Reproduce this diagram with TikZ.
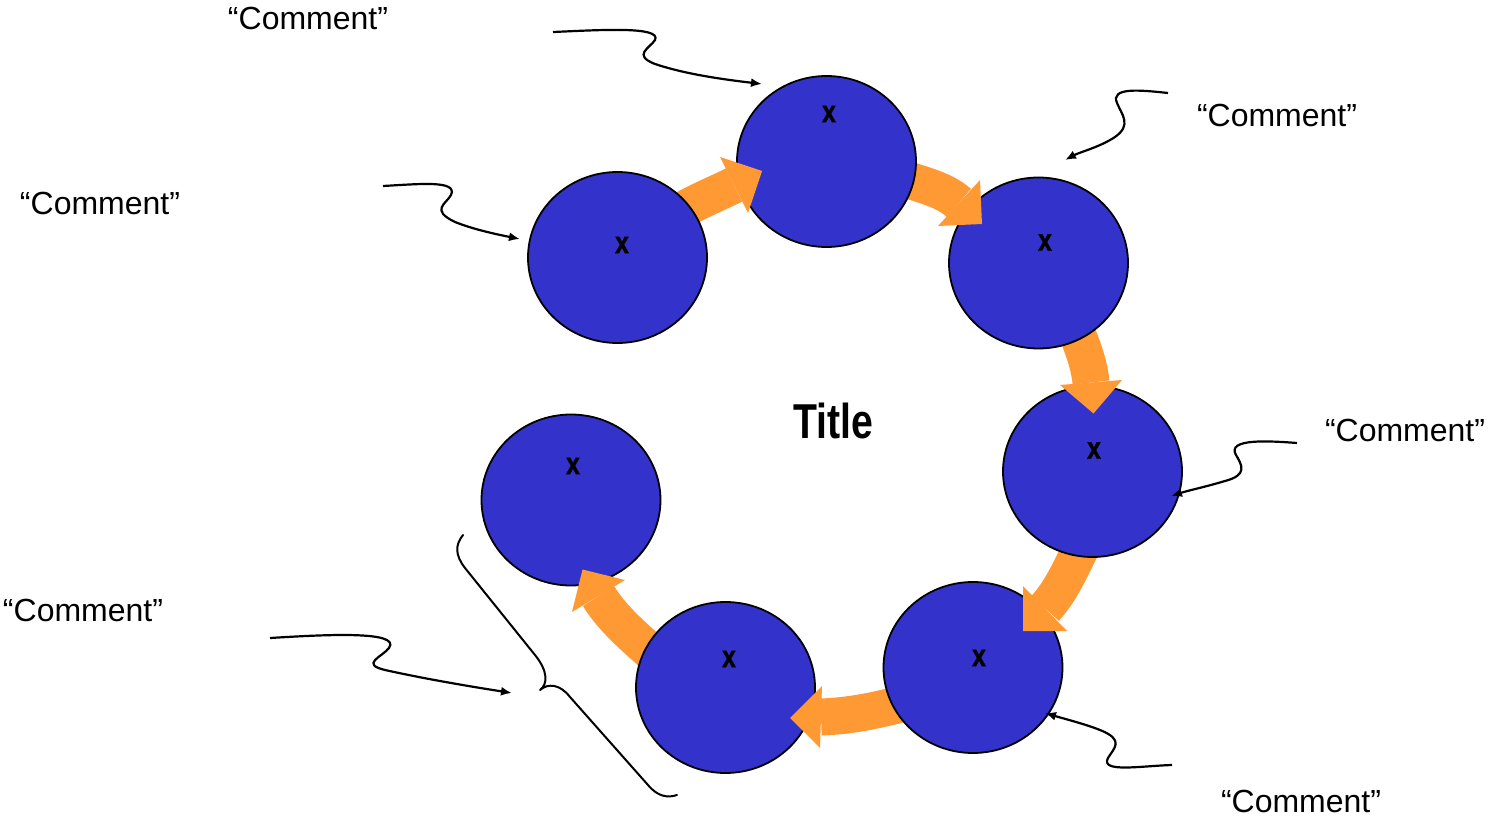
\documentclass[tikz,border=0pt]{standalone}
\usepackage{fontspec}
\setmainfont{Liberation Sans}
\newfontfamily\narrowf[FakeStretch=0.8]{Liberation Sans}
\newfontfamily\heavyf[FakeStretch=0.8,FakeBold=1.2]{Liberation Sans Bold}
\usetikzlibrary{arrows.meta,shapes.geometric}
\definecolor{ballblue}{RGB}{51,51,204}
\definecolor{flow}{RGB}{255,153,51}
\begin{document}
\begin{tikzpicture}[x=1pt,y=-1pt,
 ball/.style={ellipse,draw=black,line width=1.8pt,fill=ballblue,minimum width=179pt,minimum height=171pt,inner sep=0pt},
 xlab/.style={inner sep=0pt,font=\heavyf\fontsize{31}{36}\selectfont},
 comment/.style={inner sep=0pt,font=\fontsize{32}{38}\selectfont},
 titlelab/.style={inner sep=0pt,font=\narrowf\bfseries\fontsize{49}{58}\selectfont},
 shaft/.style={draw=flow,line width=37pt},
 head/.style={fill=flow},
 pointer/.style={draw=black,line width=2.2pt,-{Latex[length=11pt,width=9pt]}},
 bracel/.style={draw=black,line width=2pt,line cap=round,line join=round},
 ]
\useasboundingbox (0,0) rectangle (1492,821);

% ring of balls with flow arrows (drawn back to front)
\node[ball] (c7) at (571,500) {};
\draw[shaft] (665,665) .. controls (642,643) and (615,623) .. (598.5,596);
\fill[head] (572,612) -- (582.5,569.5) -- (625,580) -- cycle;
\node[ball] (c6) at (725.5,687.5) {};
\draw[shaft] (915,700) .. controls (884,709) and (853,716) .. (821,717);
\fill[head] (822,686) -- (790,718) -- (820,748) -- cycle;
\node[ball] (c5) at (973,667.5) {};
\draw[shaft] (1085,540) .. controls (1073,563) and (1063,589) .. (1045,608.5);
\fill[head] (1023,586) -- (1023,631) -- (1067,631) -- cycle;
\node[ball] (c4) at (1092.5,471.5) {};
\draw[shaft] (1072,320) .. controls (1080,341) and (1089,361) .. (1091,382.5);
\fill[head] (1060,385) -- (1093.5,413.5) -- (1122,380) -- cycle;
\node[ball] (c3) at (1038.5,263) {};
\draw[shaft] (895,175) .. controls (916,184) and (942,187.5) .. (959,203);
\fill[head] (980,180) -- (982,224) -- (938,226) -- cycle;
\node[ball] (c2) at (826.5,161.5) {};
\draw[shaft] (675,215) .. controls (693,203) and (714,195) .. (734,185);
\fill[head] (720,157) -- (762,171) -- (748,213) -- cycle;
\node[ball] (c1) at (617.5,257.5) {};

% x labels
\node[xlab] (x1) at (622,245) {x};
\node[xlab] (x2) at (829,114) {x};
\node[xlab] (x3) at (1045,242.5) {x};
\node[xlab] (x4) at (1094,450.5) {x};
\node[xlab] (x5) at (979,658) {x};
\node[xlab] (x6) at (729,659) {x};
\node[xlab] (x7) at (573,466) {x};

% title
\node[titlelab] (title) at (833,420.5) {Title};

% comments
\node[comment] (k1) at (308,18) {“Comment”};
\node[comment] (k2) at (100,203) {“Comment”};
\node[comment] (k3) at (1277,115) {“Comment”};
\node[comment] (k4) at (1405,430) {“Comment”};
\node[comment] (k5) at (83,610) {“Comment”};
\node[comment] (k6) at (1301,801) {“Comment”};

% pointer endpoints
\coordinate (p1s) at (553,32);   \coordinate (p1e) at (762,84);
\coordinate (p2s) at (383,186);  \coordinate (p2e) at (520,239);
\coordinate (p3s) at (1168,93);  \coordinate (p3e) at (1065,160);
\coordinate (p4s) at (1297,443); \coordinate (p4e) at (1171,496);
\coordinate (p5s) at (1172,765); \coordinate (p5e) at (1045,713);
\coordinate (p6s) at (270,638);  \coordinate (p6e) at (512,693);

\draw[pointer] (p1s) .. controls (600,30) and (662,26) .. (655,40)
  .. controls (650,48) and (632,55) .. (655,64)
  .. controls (685,74) and (720,79) .. (p1e);
\draw[pointer] (p2s) .. controls (420,184) and (458,180) .. (451,195)
  .. controls (446,204) and (430,210) .. (455,222)
  .. controls (475,230) and (500,235) .. (p2e);
\draw[pointer] (p3s) .. controls (1140,90) and (1110,87) .. (1117,103)
  .. controls (1122,115) and (1132,125) .. (1115,137)
  .. controls (1100,147) and (1080,152) .. (p3e);
\draw[pointer] (p4s) .. controls (1270,441) and (1226,438) .. (1236,455)
  .. controls (1242,465) and (1248,475) .. (1225,481)
  .. controls (1205,487) and (1190,490) .. (p4e);
\draw[pointer] (p5s) .. controls (1140,766) and (1100,773) .. (1108,758)
  .. controls (1114,748) and (1125,740) .. (1100,730)
  .. controls (1085,724) and (1065,719) .. (p5e);
\draw[pointer] (p6s) .. controls (320,635) and (402,630) .. (389,648)
  .. controls (382,657) and (360,664) .. (385,670)
  .. controls (430,680) and (480,688) .. (p6e);

% brace
\coordinate (bt) at (463,535);
\coordinate (bm) at (540,690);
\coordinate (bb) at (677,795);
\draw[bracel] (bt) .. controls (455,545) and (455,555) .. (465,568) -- (535,655)
  .. controls (548,671) and (548,684) .. (bm)
  .. controls (548,683) and (560,684) .. (570,697) -- (648,785)
  .. controls (658,797) and (668,798) .. (bb);
\end{tikzpicture}
\end{document}
